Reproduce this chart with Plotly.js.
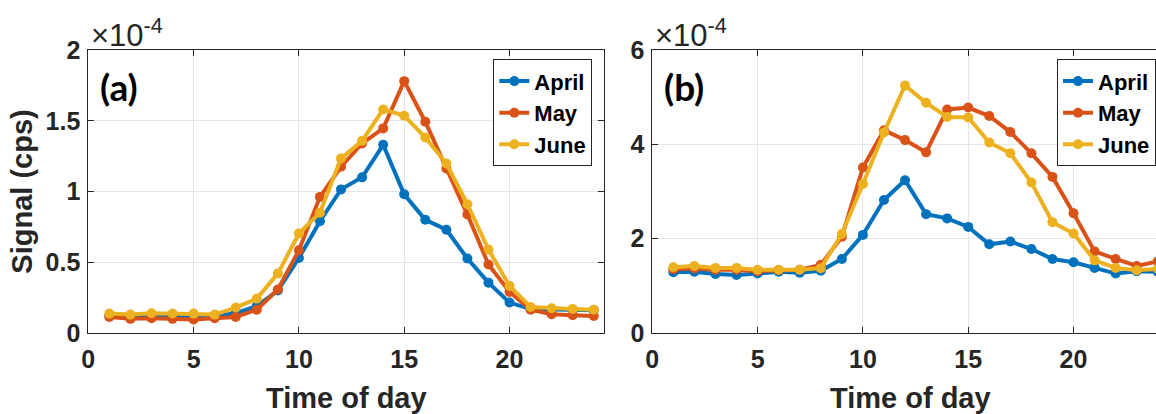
<!DOCTYPE html>
<html>
<head>
<meta charset="utf-8">
<script src="https://cdn.plot.ly/plotly-3.0.1.min.js"></script>
<style>
  html, body { margin: 0; padding: 0; background: #fff; overflow: hidden; }
  #wrap { width: 1156px; height: 414px; overflow: hidden; }
  #plot { width: 1180px; height: 414px; }
</style>
</head>
<body>
<div id="wrap"><div id="plot"></div></div>
<script>
// Hour of day
const hours = [1,2,3,4,5,6,7,8,9,10,11,12,13,14,15,16,17,18,19,20,21,22,23,24];
const seriesNames = ['April', 'May', 'June'];

// Panel (a) signal, in units of 1e-4 cps
const aprilA = [0.12,0.12,0.12,0.12,0.12,0.12,0.14,0.19,0.30,0.53,0.79,1.015,1.10,1.33,0.98,0.80,0.73,0.526,0.356,0.215,0.17,0.165,0.165,0.16];
const mayA   = [0.113,0.10,0.105,0.10,0.095,0.105,0.113,0.165,0.307,0.585,0.962,1.175,1.34,1.446,1.78,1.493,1.163,0.837,0.484,0.29,0.165,0.132,0.125,0.12];
const juneA  = [0.137,0.13,0.14,0.138,0.137,0.13,0.18,0.243,0.42,0.703,0.85,1.234,1.358,1.58,1.535,1.382,1.198,0.91,0.59,0.333,0.184,0.175,0.17,0.165];

// Panel (b) signal, in units of 1e-4 cps
const aprilB = [1.29,1.30,1.25,1.23,1.26,1.30,1.28,1.32,1.57,2.08,2.82,3.24,2.52,2.43,2.25,1.88,1.94,1.78,1.57,1.50,1.38,1.26,1.31,1.30];
const mayB   = [1.35,1.37,1.34,1.34,1.31,1.33,1.34,1.445,2.04,3.51,4.30,4.09,3.83,4.74,4.78,4.60,4.26,3.81,3.31,2.54,1.73,1.57,1.42,1.52];
const juneB  = [1.395,1.42,1.38,1.38,1.34,1.34,1.34,1.375,2.10,3.16,4.25,5.25,4.88,4.58,4.57,4.04,3.81,3.19,2.35,2.11,1.54,1.38,1.33,1.36];

// Axis ticks
const xTicks = [0,5,10,15,20];
const yTicksA = [0,0.5,1,1.5,2];
const yTicksB = [0,2,4,6];

const colors = ['#0072BD', '#D95319', '#EDB120'];
const W = 1180, H = 414;
const fx = p => p / W;
const fy = p => 1 - p / H;

const FONT = 'Liberation Sans, Arial, sans-serif';
const INK = '#262626';

function mk(y, i, xa, ya, leg) {
  return {
    x: hours, y: y, name: seriesNames[i], type: 'scatter', mode: 'lines+markers',
    xaxis: xa, yaxis: ya, legend: leg,
    line: { color: colors[i], width: 4 },
    marker: { color: colors[i], size: 10 },
    hoverinfo: 'skip'
  };
}

const data = [
  mk(aprilA, 0, 'x', 'y', 'legend'),
  mk(mayA, 1, 'x', 'y', 'legend'),
  mk(juneA, 2, 'x', 'y', 'legend'),
  mk(aprilB, 0, 'x2', 'y2', 'legend2'),
  mk(mayB, 1, 'x2', 'y2', 'legend2'),
  mk(juneB, 2, 'x2', 'y2', 'legend2')
];

const tickFont = { family: FONT, size: 25, weight: 'bold', color: INK };
const titleFont = { family: FONT, size: 29, weight: 'bold', color: INK };

function xAxis(domain, anchor) {
  return {
    domain: domain, anchor: anchor, range: [0, 24.5],
    tickvals: xTicks, ticks: 'inside', ticklen: 6, tickcolor: INK,
    showline: true, linecolor: INK, linewidth: 1, mirror: 'ticks',
    showgrid: true, gridcolor: '#e6e6e6', gridwidth: 1, zeroline: false,
    tickfont: tickFont, ticklabelstandoff: 4,
    title: { text: 'Time of day', font: titleFont, standoff: 15 },
    automargin: false, fixedrange: true
  };
}
function yAxis(domain, anchor, range, ticks, title) {
  const ax = {
    domain: domain, anchor: anchor, range: range,
    tickvals: ticks, ticks: 'inside', ticklen: 6, tickcolor: INK,
    showline: true, linecolor: INK, linewidth: 1, mirror: 'ticks',
    showgrid: true, gridcolor: '#e6e6e6', gridwidth: 1, zeroline: false,
    tickfont: tickFont, ticklabelstandoff: 2,
    automargin: false, fixedrange: true
  };
  if (title) ax.title = { text: title, font: titleFont, standoff: 4 };
  return ax;
}

const yDom = [fy(333), fy(50)];
const legendCommon = {
  xanchor: 'left', yanchor: 'top',
  bgcolor: '#ffffff', bordercolor: INK, borderwidth: 1,
  font: { family: FONT, size: 22, weight: 'bold', color: '#000' },
  tracegroupgap: 0, itemwidth: 30
};

const expFont = { family: FONT, size: 31, weight: 'normal', color: INK };

const layout = {
  width: W, height: H,
  margin: { l: 0, r: 0, t: 0, b: 0, pad: 0 },
  paper_bgcolor: '#fff', plot_bgcolor: '#fff',
  showlegend: true,
  xaxis: xAxis([fx(88.3), fx(604.3)], 'y'),
  yaxis: yAxis(yDom, 'x', [0, 2], yTicksA, 'Signal (cps)'),
  xaxis2: xAxis([fx(652.3), fx(1168.3)], 'y2'),
  yaxis2: yAxis(yDom, 'x2', [0, 6], yTicksB, null),
  legend: Object.assign({ x: fx(493.3), y: fy(59.3) }, legendCommon),
  legend2: Object.assign({ x: fx(1057), y: fy(59.3) }, legendCommon),
  annotations: [
    { text: '(a)', xref: 'paper', yref: 'paper', x: fx(98), y: fy(86), xanchor: 'left', yanchor: 'middle',
      showarrow: false, font: { family: 'Lato, Open Sans, sans-serif', size: 37, weight: 'bold', color: '#000' } },
    { text: '(b)', xref: 'paper', yref: 'paper', x: fx(662), y: fy(86), xanchor: 'left', yanchor: 'middle',
      showarrow: false, font: { family: 'Lato, Open Sans, sans-serif', size: 37, weight: 'bold', color: '#000' } },
    { text: '×10<sup>-4</sup>', xref: 'paper', yref: 'paper', x: fx(89), y: fy(33), xanchor: 'left', yanchor: 'middle',
      showarrow: false, font: expFont },
    { text: '×10<sup>-4</sup>', xref: 'paper', yref: 'paper', x: fx(653), y: fy(33), xanchor: 'left', yanchor: 'middle',
      showarrow: false, font: expFont }
  ]
};

Plotly.newPlot('plot', data, layout, { displayModeBar: false, staticPlot: true });
</script>
</body>
</html>
